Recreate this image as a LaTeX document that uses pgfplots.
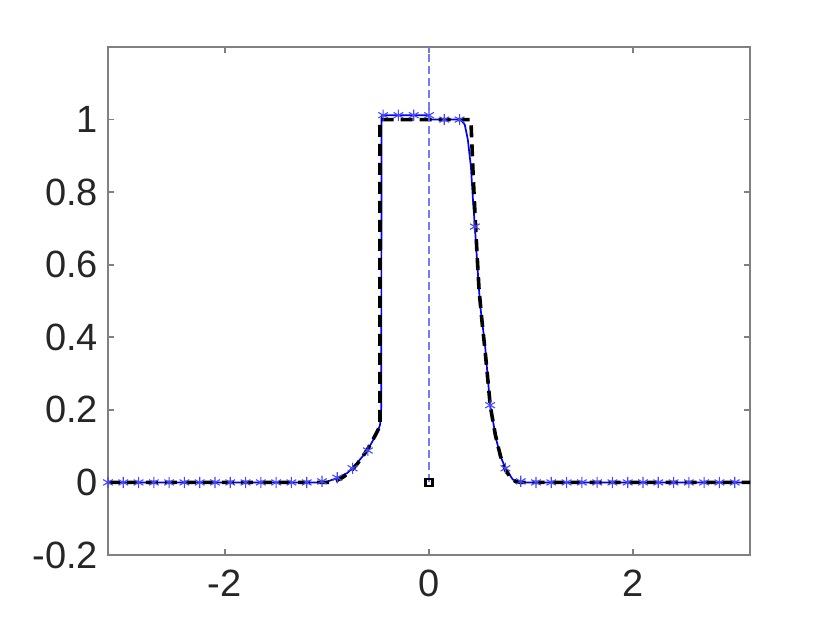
\documentclass[border=0pt]{standalone}
\usepackage{pgfplots}
\pgfplotsset{compat=1.18}
\usepackage{fontspec}
\setmainfont{Liberation Sans}
\definecolor{axgray}{RGB}{128,128,128}
\definecolor{lblgray}{RGB}{38,38,38}
\definecolor{mblue}{RGB}{0,0,255}
\definecolor{starblue}{RGB}{70,70,255}
\definecolor{vblue}{RGB}{120,120,255}

\begin{document}
\begin{tikzpicture}
\begin{axis}[
  at={(0,0)}, anchor=south west,
  scale only axis, width=321pt, height=254pt,
  xmin=-3.14159, xmax=3.14159, ymin=-0.2, ymax=1.2,
  xtick={-2,0,2},
  ytick={-0.2,0,0.2,0.4,0.6,0.8,1},
  tick align=inside,
  major tick length=3.2pt,
  axis line style={axgray, line width=0.9pt},
  tick style={axgray, line width=0.9pt},
  tick label style={font=\fontsize{19}{21}\selectfont, text=lblgray},
  /pgf/number format/assume math mode=true,
  xticklabel style={yshift=-4pt},
  yticklabel style={xshift=-1.5pt},
  clip=false,
]
% numerical solution, fine line
\addplot[mblue, line width=0.85pt] coordinates {
(-3.14159,0) (-1.05,0) (-1.0,0.002) (-0.9,0.012) (-0.8,0.026) (-0.75,0.039)
(-0.7,0.055) (-0.65,0.072) (-0.6,0.09) (-0.55,0.115) (-0.5,0.142) (-0.48,0.158)
(-0.472,0.175) (-0.467,0.21) (-0.465,1.0) (-0.462,1.012) (0.0,1.012) (0.01,1.0)
(0.31,1.0) (0.35,0.986) (0.38,0.945) (0.41,0.87) (0.43,0.78) (0.449,0.705)
(0.48,0.57) (0.5,0.49) (0.55,0.373) (0.598,0.213) (0.66,0.116) (0.70,0.072)
(0.748,0.039) (0.82,0.008) (0.897,0.0) (3.14159,0)
};
% exact solution, black dashed
\addplot[black, line width=1.8pt, dash pattern=on 6pt off 3.5pt] coordinates {
(-3.14159,0) (-1.0,0) (-0.95,0.0014) (-0.9,0.0058) (-0.85,0.013) (-0.8,0.023)
(-0.75,0.036) (-0.7,0.052) (-0.65,0.071) (-0.6,0.092) (-0.55,0.117) (-0.48,0.155)
(-0.48,1.0) (0.41,1.0) (0.43,0.86) (0.45,0.74) (0.47,0.63) (0.49,0.53)
(0.52,0.44) (0.55,0.36) (0.6,0.21) (0.65,0.13) (0.7,0.072) (0.75,0.034)
(0.8,0.012) (0.85,0.002) (0.9,0) (3.14159,0)
};
% grid values, star markers
\addplot[only marks, mark=asterisk, mark size=2.8pt, starblue, mark options={line width=0.55pt}] coordinates {
(-3.1416,0) (-2.9920,0) (-2.8424,0) (-2.6928,0) (-2.5432,0) (-2.3936,0)
(-2.2440,0) (-2.0944,0) (-1.9448,0) (-1.7952,0) (-1.6456,0) (-1.4960,0)
(-1.3464,0) (-1.1968,0) (-1.0472,0.003) (-0.8976,0.013) (-0.7480,0.039)
(-0.5984,0.088) (-0.4488,1.012) (-0.2992,1.012) (-0.1496,1.012) (0,1.012)
(0.1496,1.0) (0.2992,1.0) (0.4488,0.705) (0.5984,0.213) (0.7480,0.039)
(0.8976,0.003) (1.0472,0) (1.1968,0) (1.3464,0) (1.4960,0) (1.6456,0)
(1.7952,0) (1.9448,0) (2.0944,0) (2.2440,0) (2.3936,0) (2.5432,0)
(2.6928,0) (2.8424,0) (2.9920,0)
};
% vertical dashed line at x = 0
\addplot[vblue, line width=0.6pt, dash pattern=on 4pt off 2pt] coordinates {(0,0) (0,1.2)};
% small square at the origin
\addplot[only marks, mark=square, mark size=1.7pt, black, mark options={line width=1.3pt}] coordinates {(0,0)};
\end{axis}
\pgfresetboundingbox
\path[use as bounding box] (-54pt,-34pt) rectangle (361pt,277.5pt);
\end{tikzpicture}
\end{document}
